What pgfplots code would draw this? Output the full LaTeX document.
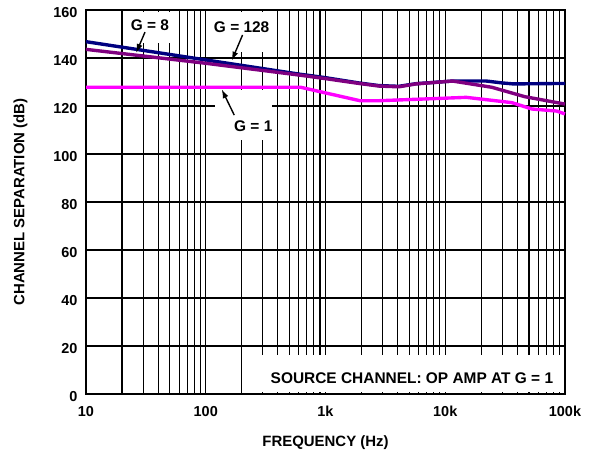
\documentclass[border=0pt]{standalone}
\usepackage{fontspec}
\setmainfont{Liberation Sans}
\usepackage{pgfplots}
\pgfplotsset{compat=1.18}
\usetikzlibrary{arrows.meta}
\definecolor{gnavy}{RGB}{0,0,128}
\definecolor{gpurple}{RGB}{128,0,128}
\definecolor{gmag}{RGB}{255,0,255}
\begin{document}
\begin{tikzpicture}
\begin{axis}[
  scale only axis,
  width=479bp, height=384bp,
  xmode=log, log basis x=10,
  xmin=10, xmax=100000, ymin=0, ymax=160,
  xtick={10,100,1000,10000,100000},
  xticklabels={10,100,1k,10k,100k},
  ytick={0,20,...,160},
  minor xtick={20,30,40,50,60,70,80,90,200,300,400,500,600,700,800,900,2000,3000,4000,5000,6000,7000,8000,9000,20000,30000,40000,50000,60000,70000,80000,90000},
  grid=both,
  major grid style={black, line width=1.5pt},
  minor grid style={black, line width=1.1pt},
  major tick length=0pt, minor tick length=0pt,
  axis line style={black, line width=2pt},
  /pgf/number format/assume math mode=true,
  tick label style={font=\bfseries\fontsize{14.5}{14.5}\selectfont},
  xticklabel style={yshift=-9bp},
  yticklabel style={xshift=-5bp, yshift=-3bp},
  label style={font=\bfseries\fontsize{15}{15}\selectfont},
  xlabel={FREQUENCY (Hz)},
  ylabel={CHANNEL SEPARATION (dB)},
  xlabel style={yshift=-12bp},
  ylabel style={yshift=19bp},
  clip=false,
]
% white boxes behind labels
\fill[white] (axis cs:21.5,159.3) rectangle (axis cs:55,146.3);
\fill[white] (axis cs:110,159.3) rectangle (axis cs:355,142.5);
\fill[white] (axis cs:120,126.7) rectangle (axis cs:355,105.8);
\fill[white] (axis cs:270,16.3) rectangle (axis cs:93000,0.8);
\addplot[gnavy, line width=3.4pt] coordinates {
(10,146.8) (100,139.2) (600,133.3) (1000,131.8) (1900,129.6) (2800,128.5) (4100,128.2) (5700,129.3) (11500,130.4) (22000,130.4) (30000,129.6) (37000,129.2) (100000,129.4)};
\addplot[gpurple, line width=3.4pt] coordinates {
(10,143.6) (100,137.8) (600,132.9) (1000,131.4) (1900,129.4) (2800,128.3) (4100,128.0) (5700,129.2) (11500,130.4) (24500,127.8) (46000,123.9) (100000,120.8)};
\addplot[gmag, line width=3.4pt] coordinates {
(10,127.8) (620,127.8) (1940,122.2) (2800,122.2) (15000,123.6) (36000,121.4) (53000,118.75) (85000,117.9) (100000,116.7)};
\node[font=\bfseries\fontsize{15.5}{15.5}\selectfont] at (axis cs:34.2,153.6) {G = 8};
\node[font=\bfseries\fontsize{15.5}{15.5}\selectfont] at (axis cs:199.5,153) {G = 128};
\node[font=\bfseries\fontsize{15.5}{15.5}\selectfont] at (axis cs:249.5,111.7) {G = 1};
\node[font=\bfseries\fontsize{15.5}{15.5}\selectfont] at (axis cs:5270,6.7) {SOURCE CHANNEL: OP AMP AT G = 1};
\draw[line width=1.4pt, -{Latex[length=9bp,width=6bp]}] (axis cs:31.1,150.8) -- (axis cs:26.2,142.1);
\draw[line width=1.4pt, -{Latex[length=9bp,width=6bp]}] (axis cs:203,149.6) -- (axis cs:164.7,138.9);
\draw[line width=1.4pt, -{Latex[length=9bp,width=6bp]}] (axis cs:173,116.2) -- (axis cs:135.8,127);
\end{axis}
\pgfresetboundingbox
\path[use as bounding box] ([shift={(-86bp,-63bp)}]current axis.south west) rectangle ([shift={(27bp,10bp)}]current axis.north east);
\end{tikzpicture}
\end{document}
